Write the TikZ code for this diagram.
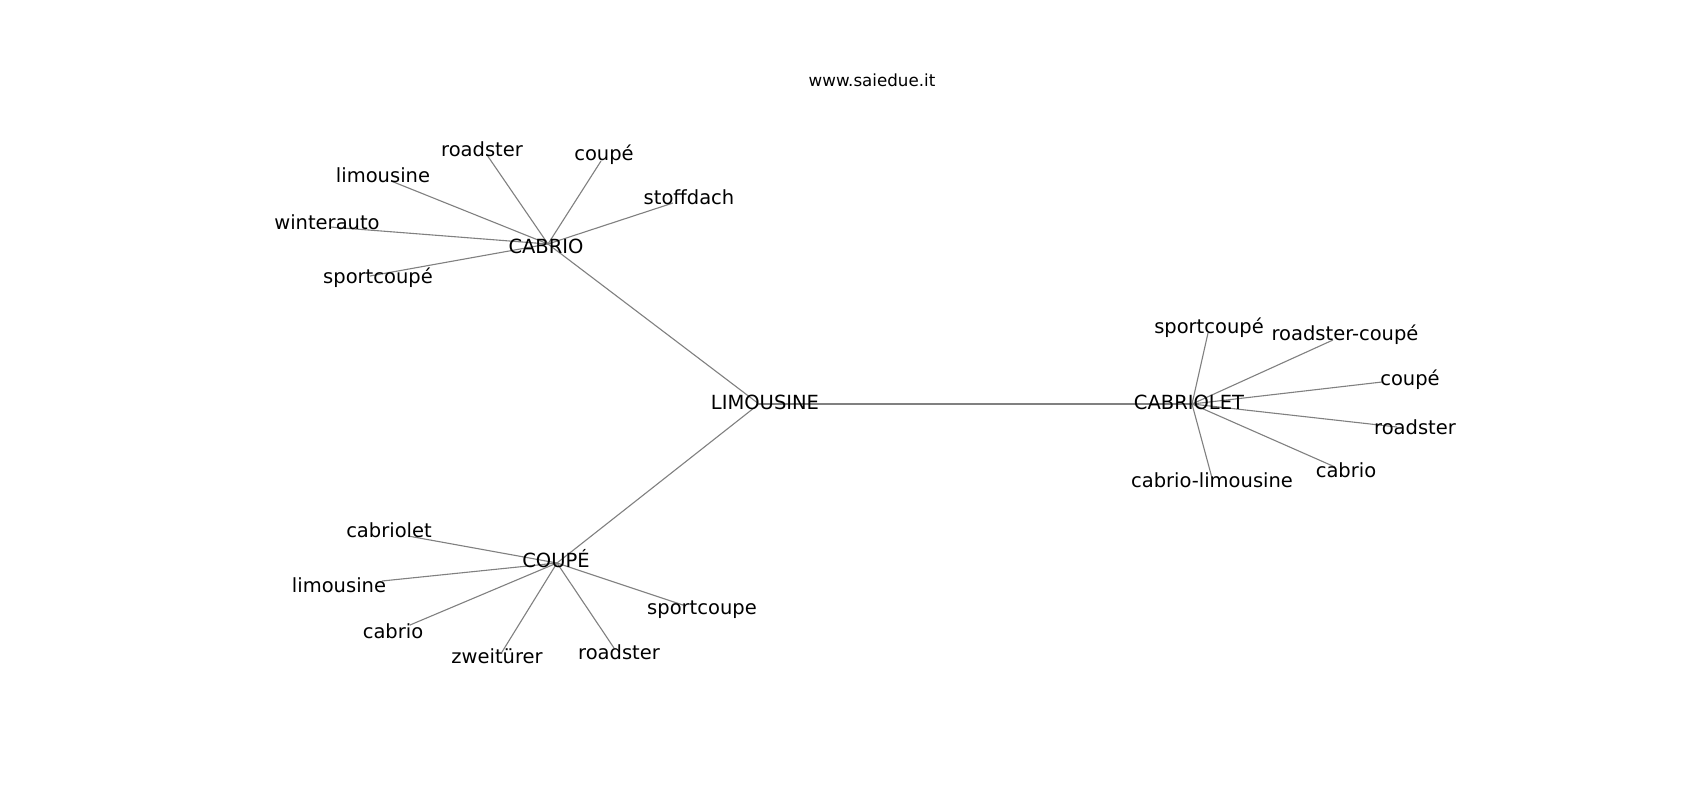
\documentclass[tikz,border=0pt]{standalone}
\usepackage{fontspec}
\setmainfont{DejaVu Sans}
\begin{document}
\begin{tikzpicture}[x=1pt,y=-1pt,
  lbl/.style={anchor=base,inner sep=0pt,font=\fontsize{19.5}{21}\selectfont,text=black},
  ttl/.style={anchor=base,inner sep=0pt,font=\fontsize{16.7}{18}\selectfont,text=black},
  edge/.style={draw=black!50,line width=1.1pt}]
\useasboundingbox[fill=white] (0,0) rectangle (1700,800);
% hubs
\coordinate (hLIM) at (759,404);
\coordinate (hCABRIO) at (548,244);
\coordinate (hCOUPE) at (557,563);
\coordinate (hCABRIOLET) at (1192,404);
% leaf ends
\coordinate (ec1) at (487,155);
\coordinate (ec2) at (601,161);
\coordinate (ec3) at (673,203);
\coordinate (ec4) at (391,181);
\coordinate (ec5) at (330,227);
\coordinate (ec6) at (370,276);
\coordinate (ek1) at (408,536);
\coordinate (ek2) at (382,581);
\coordinate (ek3) at (410,625);
\coordinate (ek4) at (502,652);
\coordinate (ek5) at (614,648);
\coordinate (ek6) at (683,605);
\coordinate (er1) at (1208,333);
\coordinate (er2) at (1333,340);
\coordinate (er3) at (1382,382);
\coordinate (er4) at (1397,427);
\coordinate (er5) at (1335,467);
\coordinate (er6) at (1212,478);
% edges
\draw[edge] (hLIM) -- (hCABRIO);
\draw[edge] (hLIM) -- (hCOUPE);
\draw[edge] (hLIM) -- (hCABRIOLET);
\foreach \e in {ec1,ec2,ec3,ec4,ec5,ec6} \draw[edge] (hCABRIO) -- (\e);
\foreach \e in {ek1,ek2,ek3,ek4,ek5,ek6} \draw[edge] (hCOUPE) -- (\e);
\foreach \e in {er1,er2,er3,er4,er5,er6} \draw[edge] (hCABRIOLET) -- (\e);
% labels
\node[ttl] (title) at (872,87) {www.saiedue.it};
\node[lbl] (LIM) at (765,409) {LIMOUSINE};
\node[lbl] (CABRIO) at (546,253) {CABRIO};
\node[lbl] (COUPE) at (556,567) {COUPÉ};
\node[lbl] (CABRIOLET) at (1189,409) {CABRIOLET};
\node[lbl] (c1) at (482,156) {roadster};
\node[lbl] (c2) at (604,160) {coupé};
\node[lbl] (c3) at (689,204) {stoffdach};
\node[lbl] (c4) at (383,182) {limousine};
\node[lbl] (c5) at (327,229) {winterauto};
\node[lbl] (c6) at (378,283) {sportcoupé};
\node[lbl] (k1) at (389,537) {cabriolet};
\node[lbl] (k2) at (339,592) {limousine};
\node[lbl] (k3) at (393,638) {cabrio};
\node[lbl] (k4) at (497,663) {zweitürer};
\node[lbl] (k5) at (619,659) {roadster};
\node[lbl] (k6) at (702,614) {sportcoupe};
\node[lbl] (r1) at (1209,333) {sportcoupé};
\node[lbl] (r2) at (1345,340) {roadster-coupé};
\node[lbl] (r3) at (1410,385) {coupé};
\node[lbl] (r4) at (1415,434) {roadster};
\node[lbl] (r5) at (1346,477) {cabrio};
\node[lbl] (r6) at (1212,487) {cabrio-limousine};
\end{tikzpicture}
\end{document}
